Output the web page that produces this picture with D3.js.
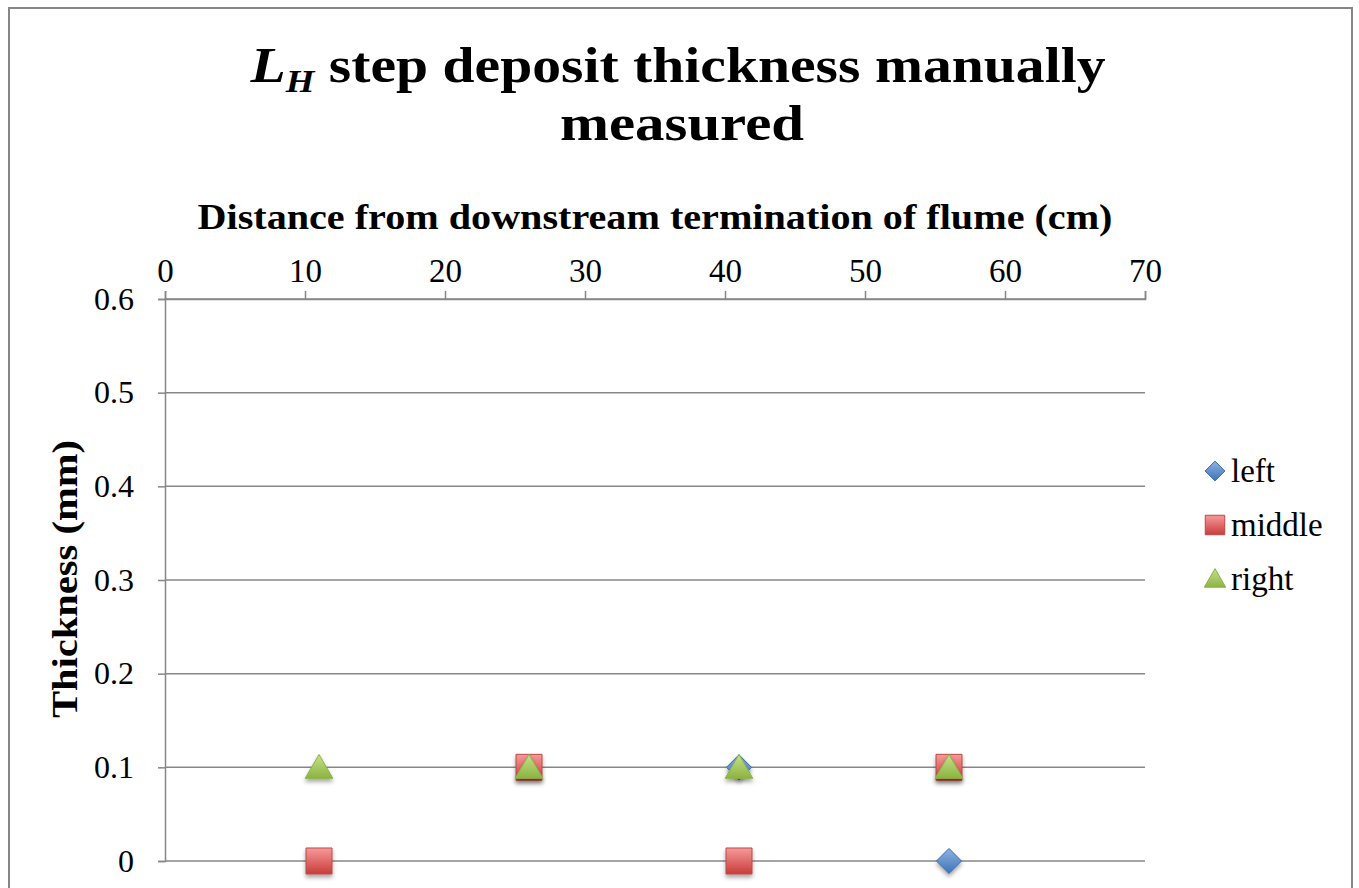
<!DOCTYPE html>
<html>
<head>
<meta charset="utf-8">
<script src="https://cdn.jsdelivr.net/npm/d3@7"></script>
<style>
  body { margin: 0; background: #fff; }
  text { font-family: "Liberation Serif", "DejaVu Serif", serif; }
</style>
</head>
<body>
<div id="chart"></div>
<script>
// data
const distance = [11, 26, 41, 56];
const left_vals = [null, null, 0.1, 0];
const middle_vals = [0, 0.1, 0, 0.1];
const right_vals = [0.1, 0.1, 0.1, 0.1];
const series_names = ['left', 'middle', 'right'];
const x_ticks = [0, 10, 20, 30, 40, 50, 60, 70];
const y_ticks = [0, 0.1, 0.2, 0.3, 0.4, 0.5, 0.6];

let width = 1359;
let height = 888;

let svg = d3.select('#chart').append('svg')
    .attr('width', width)
    .attr('height', height);

// outer chart border
svg.append('rect')
    .attr('x', 9).attr('y', 8)
    .attr('width', 1343).attr('height', 900)
    .attr('fill', '#fff')
    .attr('stroke', '#868686')
    .attr('stroke-width', 2);

let defs = svg.append('defs');
function grad(id, c1, c2) {
    let g = defs.append('linearGradient').attr('id', id)
        .attr('x1', 0).attr('y1', 0).attr('x2', 0).attr('y2', 1);
    g.append('stop').attr('offset', '0%').attr('stop-color', c1);
    g.append('stop').attr('offset', '100%').attr('stop-color', c2);
}
grad('g_left', '#8db3e2', '#3f73b8');
grad('g_middle', '#f79a9a', '#c83c3a');
grad('g_right', '#c6e08e', '#8cb43f');

let shadow = defs.append('filter').attr('id', 'shadow')
    .attr('x', '-50%').attr('y', '-50%').attr('width', '200%').attr('height', '200%');
shadow.append('feDropShadow')
    .attr('dx', 0).attr('dy', 3).attr('stdDeviation', 2)
    .attr('flood-color', '#000').attr('flood-opacity', 0.35);

let x = d3.scaleLinear().domain([0, 70]).range([165, 1145]);
let y = d3.scaleLinear().domain([0, 0.6]).range([861, 299]);

// horizontal gridlines
svg.append('g')
    .selectAll('line')
    .data(y_ticks)
    .enter()
    .append('line')
    .attr('x1', x(0)).attr('x2', x(70))
    .attr('y1', d => y(d)).attr('y2', d => y(d))
    .attr('stroke', '#878787')
    .attr('stroke-width', 1.5);

// x axis on top
let xAxis = svg.append('g')
    .attr('transform', 'translate(0,' + y(0.6) + ')')
    .call(d3.axisTop(x).tickValues(x_ticks).tickSize(8).tickPadding(9).tickFormat(d3.format('d')));
xAxis.selectAll('text').attr('font-size', 33).attr('fill', '#000')
    .style('font-family', '"Liberation Serif", serif');

// y axis
let yAxis = svg.append('g')
    .attr('transform', 'translate(' + x(0) + ',0)')
    .call(d3.axisLeft(y).tickValues(y_ticks).tickSize(7).tickPadding(24)
        .tickFormat(d => d === 0 ? '0' : d3.format('.1f')(d)));
yAxis.selectAll('text').attr('font-size', 32).attr('fill', '#000')
    .style('font-family', '"Liberation Serif", serif');

[xAxis, yAxis].forEach(a => {
    a.selectAll('.domain').attr('stroke', '#878787').attr('stroke-width', 1.5);
    a.selectAll('.tick line').attr('stroke', '#878787').attr('stroke-width', 1.5);
});

// titles (textLength stretches the narrower serif to the original widths)
let title = svg.append('text')
    .attr('x', 678).attr('y', 82)
    .attr('text-anchor', 'middle')
    .attr('font-size', 50)
    .attr('font-weight', 'bold')
    .attr('textLength', 855)
    .attr('lengthAdjust', 'spacingAndGlyphs');
title.append('tspan').attr('font-style', 'italic').text('L');
title.append('tspan').attr('font-style', 'italic').attr('font-size', 32)
    .attr('dy', 10).text('H');
title.append('tspan').attr('dy', -10).text(' step deposit thickness manually');

svg.append('text')
    .attr('x', 682).attr('y', 140)
    .attr('text-anchor', 'middle')
    .attr('font-size', 50)
    .attr('font-weight', 'bold')
    .attr('textLength', 244)
    .attr('lengthAdjust', 'spacingAndGlyphs')
    .text('measured');

svg.append('text')
    .attr('x', 655).attr('y', 229)
    .attr('text-anchor', 'middle')
    .attr('font-size', 36)
    .attr('font-weight', 'bold')
    .attr('textLength', 915)
    .attr('lengthAdjust', 'spacingAndGlyphs')
    .text('Distance from downstream termination of flume (cm)');

svg.append('text')
    .attr('transform', 'translate(77,579) rotate(-90)')
    .attr('text-anchor', 'middle')
    .attr('font-size', 36)
    .attr('font-weight', 'bold')
    .attr('textLength', 278)
    .attr('lengthAdjust', 'spacingAndGlyphs')
    .text('Thickness (mm)');

// markers
let symbols = {
    left: d3.symbol().type(d3.symbolDiamond2).size(400),
    middle: d3.symbol().type(d3.symbolSquare).size(676),
    right: d3.symbol().type(d3.symbolTriangle).size(330)
};
let strokes = { left: '#3b6ea8', middle: '#b94a48', right: '#8ab34a' };

let all_vals = { left: left_vals, middle: middle_vals, right: right_vals };

series_names.forEach(name => {
    let pts = distance.map((d, i) => ({ x: d, y: all_vals[name][i] }))
        .filter(p => p.y !== null);
    svg.append('g')
        .selectAll('path')
        .data(pts)
        .enter()
        .append('path')
        .attr('d', symbols[name])
        .attr('transform', d => 'translate(' + x(d.x) + ',' + (y(d.y) + (name === 'right' ? 3 : 0)) + ')')
        .attr('fill', 'url(#g_' + name + ')')
        .attr('stroke', strokes[name])
        .attr('stroke-width', 1)
        .attr('filter', 'url(#shadow)');
});

// legend
let legend_sym = { left: d3.symbolDiamond2, middle: d3.symbolSquare, right: d3.symbolTriangle };
let legend_size = { left: 250, middle: 380, right: 200 };
let legend = svg.append('g');
series_names.forEach((name, i) => {
    let ly = 471 + i * 54;
    legend.append('path')
        .attr('d', d3.symbol().type(legend_sym[name]).size(legend_size[name]))
        .attr('transform', 'translate(1215,' + (ly + (name === 'right' ? 2 : 0)) + ')')
        .attr('fill', 'url(#g_' + name + ')')
        .attr('stroke', strokes[name]);
    legend.append('text')
        .attr('x', 1231).attr('y', ly + 11)
        .attr('font-size', 33)
        .text(name);
});
</script>
</body>
</html>
